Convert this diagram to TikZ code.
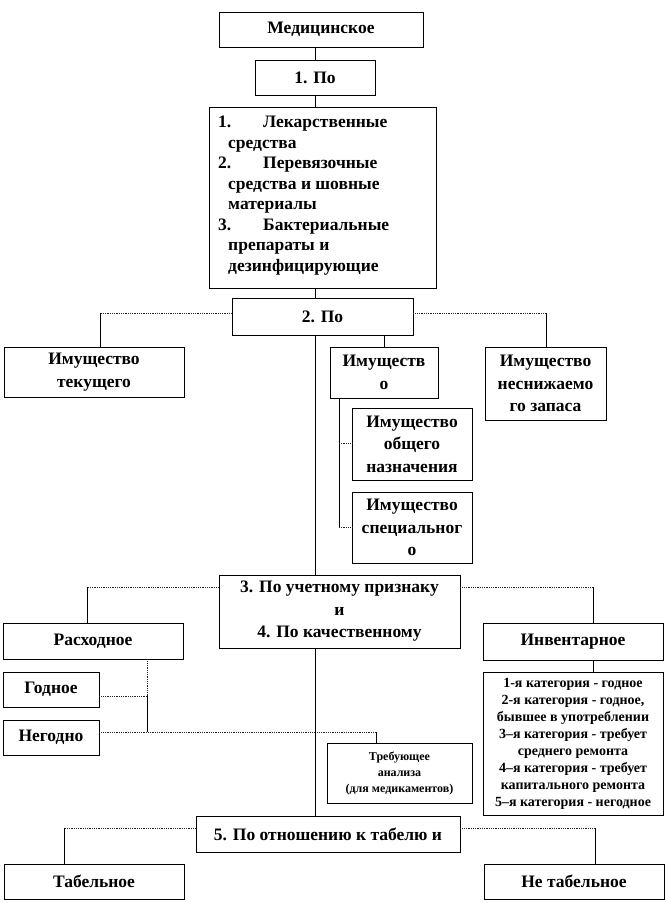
\documentclass[tikz,border=0pt]{standalone}
\usepackage{fontspec}
\setmainfont{Liberation Serif}
\begin{document}
\begin{tikzpicture}[x=1pt,y=-1pt,
  box/.style={draw=black, line width=0.7pt, fill=white, inner sep=0pt, align=center,
    font=\bfseries\fontsize{17.5}{22.5}\selectfont},
  catfont/.style={font=\bfseries\fontsize{14}{17}\selectfont},
  trebfont/.style={font=\bfseries\fontsize{12}{16}\selectfont},
  vline/.style={draw=black, line width=0.8pt},
  hline/.style={draw=black!85, line width=0.8pt, densely dotted}]
\useasboundingbox (0,0) rectangle (666,903);
% boxes
\node[box, minimum width=204pt, minimum height=35pt] (med) at (321,29.5) {Медицинское};
\node[box, minimum width=120pt, minimum height=35pt] (po1) at (315,77.5) {1. По};
\node[box, minimum width=227pt, minimum height=181pt, anchor=north west] (list) at (209,107) {};
\node[anchor=north west, inner sep=0pt, align=left, font=\bfseries\fontsize{17.5}{20.5}\selectfont] (listtext) at (218,116) {%
\makebox[45pt][l]{1.}Лекарственные\\
\hspace*{10pt}средства\\
\makebox[45pt][l]{2.}Перевязочные\\
\hspace*{10pt}средства и шовные\\
\hspace*{10pt}материалы\\
\makebox[45pt][l]{3.}Бактериальные\\
\hspace*{10pt}препараты и\\
\hspace*{10pt}дезинфицирующие};
\node[box, minimum width=181pt, minimum height=37pt] (po2) at (322.5,316.5) {2. По};
\node[box, minimum width=180pt, minimum height=50pt] (tek) at (94,372) {Имущество\\текущего};
\node[box, minimum width=108pt, minimum height=51pt] (imo) at (384,372.5) {Имуществ\\о};
\node[box, minimum width=121pt, minimum height=73pt] (nesn) at (545.5,383.5) {Имущество\\неснижаемо\\го запаса};
\node[box, minimum width=120pt, minimum height=72pt] (obsh) at (412,444) {Имущество\\общего\\назначения};
\node[box, minimum width=120pt, minimum height=71pt] (spec) at (412,527.5) {Имущество\\специальног\\о};
\node[box, minimum width=241pt, minimum height=73pt] (po3) at (339.5,611.5) {3. По учетному признаку\\и\\4. По качественному};
\node[box, minimum width=180pt, minimum height=36pt] (rash) at (93,641) {Расходное};
\node[box, minimum width=180pt, minimum height=37pt] (inv) at (573,641.5) {Инвентарное};
\node[box, minimum width=96pt, minimum height=35pt] (godn) at (51,689.5) {Годное};
\node[box, minimum width=96pt, minimum height=35pt] (negodn) at (51,737.5) {Негодно};
\node[box, trebfont, minimum width=145pt, minimum height=60pt] (treb) at (399.5,773) {Требующее\\анализа\\(для медикаментов)};
\node[box, catfont, minimum width=180pt, minimum height=143pt] (cat) at (573,743.5) {1-я категория - годное\\2-я категория - годное,\\бывшее в употреблении\\3–я категория - требует\\среднего ремонта\\4–я категория - требует\\капитального ремонта\\5–я категория - негодное};
\node[box, minimum width=264pt, minimum height=36pt] (po5) at (328,834) {5. По отношению к табелю и};
\node[box, minimum width=180pt, minimum height=35pt] (tab) at (94,881.5) {Табельное};
\node[box, minimum width=180pt, minimum height=35pt] (ntab) at (574,881.5) {Не табельное};
% coordinates
\coordinate (sp) at (315,0);
\coordinate (a1) at (100,313); \coordinate (a2) at (546,313);
\coordinate (bx) at (339,443); \coordinate (by) at (339,527);
\coordinate (c1) at (87,587); \coordinate (c2) at (593,587);
\coordinate (d1) at (147,696); \coordinate (d2) at (147,732); \coordinate (d3) at (376,732);
\coordinate (e1) at (64,828); \coordinate (e2) at (595,828);
% connectors
\draw[vline] (med.south -| sp) -- (po1.north -| sp);
\draw[vline] (po1.south -| sp) -- (list.north -| sp);
\draw[vline] (list.south -| sp) -- (po2.north -| sp);
\draw[hline] (po2.west |- a1) -- (a1);
\draw[vline] (a1) -- (a1 |- tek.north);
\draw[hline] (po2.east |- a2) -- (a2);
\draw[vline] (a2) -- (a2 |- nesn.north);
\draw[vline] (po2.south -| imo.north) -- (imo.north);
\draw[vline] (po2.south -| sp) -- (po3.north -| sp);
\draw[vline] (imo.south -| bx) -- (by);
\draw[hline] (bx) -- (bx -| obsh.west);
\draw[hline] (by) -- (by -| spec.west);
\draw[hline] (po3.west |- c1) -- (c1);
\draw[vline] (c1) -- (c1 |- rash.north);
\draw[hline] (po3.east |- c2) -- (c2);
\draw[vline] (c2) -- (c2 |- inv.north);
\draw[vline] (inv.south -| c2) -- (cat.north -| c2);
\draw[hline] (rash.south -| d1) -- (d1);
\draw[vline] (d1) -- (d2);
\draw[hline] (godn.east |- d1) -- (d1);
\draw[hline] (negodn.east |- d2) -- (d3);
\draw[vline] (d3) -- (d3 |- treb.north);
\draw[vline] (po3.south -| sp) -- (po5.north -| sp);
\draw[hline] (po5.west |- e1) -- (e1);
\draw[vline] (e1) -- (e1 |- tab.north);
\draw[hline] (po5.east |- e2) -- (e2);
\draw[vline] (e2) -- (e2 |- ntab.north);
\end{tikzpicture}
\end{document}
